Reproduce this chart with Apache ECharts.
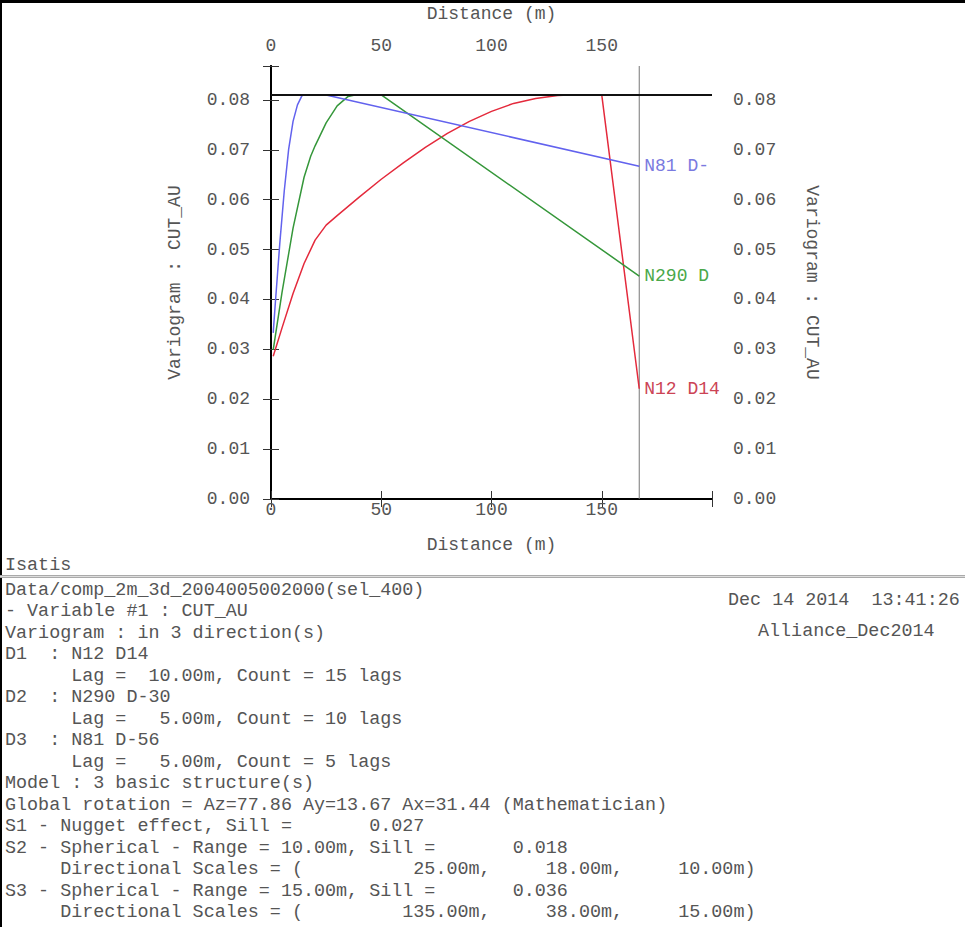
<!DOCTYPE html>
<html>
<head>
<meta charset="utf-8">
<script src="https://cdn.jsdelivr.net/npm/echarts@6/dist/echarts.min.js"></script>
<style>
  html, body { margin: 0; padding: 0; background: #fff; }
  #variogram { width: 965px; height: 927px; }
</style>
</head>
<body>
<div id="variogram"></div>
<script>
// model sill, max distance (vertical line) and axis top
const sill = 0.081
const maxDist = 167
const yMax = 0.0868

// D1 : N12 D14  (lag 10 m, 15 lags)
const d1Points = [[1, 0.0286], [5, 0.0343], [10, 0.0412], [15, 0.0472], [20, 0.0519], [25, 0.0549], [30, 0.0568],
  [40, 0.0605], [50, 0.0641], [60, 0.0674], [70, 0.0705], [80, 0.0733], [90, 0.0757], [100, 0.0777],
  [110, 0.0793], [120, 0.0803], [130, 0.0809], [135, 0.081], [150, 0.081], [167, 0.0221]]
// D2 : N290 D-30 (lag 5 m, 10 lags)
const d2Points = [[1, 0.0299], [5, 0.0414], [10, 0.0543], [15, 0.0645], [18, 0.0687], [20, 0.0708], [25, 0.0754],
  [30, 0.0788], [35, 0.0807], [38, 0.081], [50, 0.081], [167, 0.0447]]
// D3 : N81 D-56 (lag 5 m, 5 lags)
const d3Points = [[1, 0.0333], [2, 0.0395], [4, 0.0513], [6, 0.0617], [8, 0.0701], [10, 0.0757], [12, 0.079],
  [14, 0.0808], [15, 0.081], [25, 0.081], [167, 0.0667]]

const seriesNames = ['N12 D14', 'N290 D', 'N81 D-']
const xTicks = [0, 50, 100, 150]
const yTicks = [0, 0.01, 0.02, 0.03, 0.04, 0.05, 0.06, 0.07, 0.08]

const infoLines = [
  'Data/comp_2m_3d_2004005002000(sel_400)',
  '- Variable #1 : CUT_AU',
  'Variogram : in 3 direction(s)',
  'D1  : N12 D14',
  '      Lag =  10.00m, Count = 15 lags',
  'D2  : N290 D-30',
  '      Lag =   5.00m, Count = 10 lags',
  'D3  : N81 D-56',
  '      Lag =   5.00m, Count = 5 lags',
  'Model : 3 basic structure(s)',
  'Global rotation = Az=77.86 Ay=13.67 Ax=31.44 (Mathematician)',
  'S1 - Nugget effect, Sill =       0.027',
  'S2 - Spherical - Range = 10.00m, Sill =       0.018',
  '     Directional Scales = (          25.00m,     18.00m,     10.00m)',
  'S3 - Spherical - Range = 15.00m, Sill =       0.036',
  '     Directional Scales = (         135.00m,     38.00m,     15.00m)'
]

const mono = '"Liberation Mono", "DejaVu Sans Mono", monospace'
const textColor = '#555'
const fontPx = 18.4

function xAxisOpt(pos) {
  return {
    type: 'value',
    position: pos,
    min: 0,
    max: 200,
    interval: 50,
    name: 'Distance (m)',
    nameLocation: 'middle',
    nameGap: pos === 'top' ? 43 : 37,
    nameTextStyle: {fontFamily: mono, fontSize: 18, color: textColor},
    axisLine: {lineStyle: {color: '#000', width: 2}},
    axisTick: {inside: true, length: 8, lineStyle: {color: '#333', width: 1}},
    axisLabel: {
      margin: pos === 'top' ? 11 : 2,
      fontFamily: mono, fontSize: 18, color: textColor,
      formatter: function (v) {
        return xTicks.indexOf(v) >= 0 ? String(v) : ''
      }
    },
    splitLine: {show: false}
  }
}

function yAxisOpt(pos) {
  return {
    type: 'value',
    position: pos,
    min: 0,
    max: yMax,
    interval: 0.01,
    name: 'Variogram : CUT_AU',
    nameLocation: 'middle',
    nameRotate: pos === 'left' ? 90 : -90,
    nameGap: pos === 'left' ? 87 : 91,
    nameTextStyle: {fontFamily: mono, fontSize: 18, color: textColor},
    axisLine: {show: true, lineStyle: {color: '#000', width: 2}},
    axisTick: {show: true, inside: true, length: 8, lineStyle: {color: '#333', width: 1}},
    axisLabel: {
      margin: 21,
      fontFamily: mono, fontSize: 18, color: textColor,
      formatter: function (v) {
        for (let i = 0; i < yTicks.length; i++) {
          if (Math.abs(yTicks[i] - v) < 1e-6) return v.toFixed(2)
        }
        return ''
      }
    },
    splitLine: {show: false}
  }
}

function lineSeries(name, data, color, labelColor) {
  return {
    name: name,
    type: 'line',
    data: data,
    showSymbol: false,
    smooth: false,
    lineStyle: {color: color, width: 1.5},
    endLabel: {
      show: true,
      formatter: name,
      color: labelColor,
      fontFamily: mono,
      fontSize: 18,
      distance: 5
    },
    animation: false,
    z: 3
  }
}

const graphics = [
  {type: 'rect', left: 0, top: 0, shape: {width: 965, height: 3}, style: {fill: '#000'}},
  {type: 'rect', left: 0, top: 0, shape: {width: 2, height: 927}, style: {fill: '#000'}},
  {type: 'rect', left: 0, top: 575, shape: {width: 965, height: 3}, style: {fill: '#aaa'}},
  {type: 'rect', left: 0, top: 576, shape: {width: 965, height: 1}, style: {fill: '#ddd'}},
  {type: 'text', left: 5, top: 556, style: {text: 'Isatis', font: fontPx + 'px ' + mono, fill: textColor}},
  {type: 'text', left: 728, top: 591, style: {text: 'Dec 14 2014  13:41:26', font: fontPx + 'px ' + mono, fill: textColor}},
  {type: 'text', left: 758, top: 622, style: {text: 'Alliance_Dec2014', font: fontPx + 'px ' + mono, fill: textColor}}
]
for (let i = 0; i < infoLines.length; i++) {
  graphics.push({
    type: 'text',
    left: 5,
    top: Math.round(581 + i * 21.47),
    style: {text: infoLines[i], font: fontPx + 'px ' + mono, fill: textColor}
  })
}

const myChart = echarts.init(document.getElementById('variogram'), null, {renderer: 'svg'})
myChart.setOption({
  backgroundColor: '#fff',
  animation: false,
  grid: {left: 271, top: 66, width: 441, height: 433},
  xAxis: [xAxisOpt('bottom'), xAxisOpt('top')],
  yAxis: [yAxisOpt('left'), yAxisOpt('right')],
  graphic: graphics,
  series: [
    {
      // vertical line at the max distance
      type: 'line',
      data: [[maxDist, 0], [maxDist, yMax]],
      showSymbol: false,
      silent: true,
      lineStyle: {color: '#777', width: 1},
      animation: false,
      z: 2
    },
    lineSeries(seriesNames[0], d1Points, '#e42a3c', '#cc4455'),
    lineSeries(seriesNames[1], d2Points, '#35973a', '#4aa84a'),
    lineSeries(seriesNames[2], d3Points, '#6262ee', '#7a7ae0'),
    {
      // total sill
      type: 'line',
      data: [[0, sill], [200, sill]],
      showSymbol: false,
      silent: true,
      lineStyle: {color: '#111', width: 2},
      animation: false,
      z: 4
    }
  ]
})
</script>
</body>
</html>
